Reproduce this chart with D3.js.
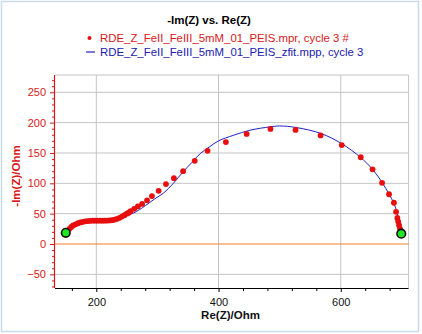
<!DOCTYPE html>
<html><head><meta charset="utf-8">
<script src="https://cdn.jsdelivr.net/npm/d3@7"></script>
<style>
html,body{margin:0;padding:0;background:#fff;}
svg{display:block;font-family:"Liberation Sans",Arial,sans-serif;}
</style></head>
<body>
<svg id="c" width="422" height="334"></svg>
<script>
// Measured data: Re(Z) / Ohm and -Im(Z) / Ohm
const reZ = [150,153,156,159,162,166,170,174,178,182,186,190,194,198,202,206,210,214,218,222,226,230,234,238,242,246,250,253,256,262,268,275,283,291,302,314,327,342,361,382,412,446,485,526,567,601.6,632.7,652,667.6,679,687,690.5,692.6,694,695.4,697,699];
const negImZ = [18.5,22,25,28,30.5,32.5,34.2,35.6,36.6,37.3,37.8,38.2,38.4,38.5,38.5,38.5,38.5,38.5,38.6,38.8,39.3,40.2,41.5,43.2,45.2,47.5,50,51.5,54,58,62,66,72,79,87.6,98.7,108.5,120,137,153.5,168,181.4,189.6,188,179,163,143,123,100.8,82,68,53,43,37,31,25,17];
// Fit curve
const fitRe = [150,165,180,200,220,235,248,261,280,295,310,326,342,356,370,385,400,424,451.5,484,500,527,568,602,632,652,668,679,687,692,695,697.5,699];
const fitIm = [18.5,31,36.5,38.5,39,41,47,51,63,74,84,100,119,134,149,160,170,179,187.5,193,194.5,192,182,165,143,123,101,82,67,52,40,28,17];
const xTicks = [200,400,600];
const yTicks = [-50,0,50,100,150,200,250];
const xMinor = [160,240,280,320,360,440,480,520,560,640,680];
const yMinor = d3.range(-70,280,10).filter(v => v % 50 !== 0);

const svg = d3.select("#c");
const L = 55, R = 408.6, T = 75, B = 288;
const x = d3.scaleLinear().domain([132.4, 711]).range([L, R]);
const y = d3.scaleLinear().domain([-72.5, 278.5]).range([B, T]);

// outer frame
svg.append("rect").attr("x",1.5).attr("y",1.5).attr("width",417).attr("height",330)
  .attr("fill","#fff").attr("stroke","#c9dcee").attr("stroke-width",1.5);

// grid
const grid = svg.append("g");
grid.selectAll("line.vx").data(xTicks).join("line")
  .attr("x1",d=>x(d)).attr("x2",d=>x(d)).attr("y1",T).attr("y2",B)
  .attr("stroke","#c4c4c4").attr("stroke-width",1);
grid.selectAll("line.hy").data(yTicks.filter(d=>d!==0)).join("line")
  .attr("y1",d=>y(d)).attr("y2",d=>y(d)).attr("x1",L).attr("x2",R)
  .attr("stroke","#c4c4c4").attr("stroke-width",1);
// plot border top & right
svg.append("line").attr("x1",L).attr("x2",R).attr("y1",T).attr("y2",T).attr("stroke","#c4c4c4");
svg.append("line").attr("x1",R).attr("x2",R).attr("y1",T).attr("y2",B).attr("stroke","#c4c4c4");
// zero line
svg.append("line").attr("x1",L).attr("x2",R).attr("y1",y(0)).attr("y2",y(0))
  .attr("stroke","#e8842a").attr("stroke-width",1.2);

// axes
const xAxis = svg.append("g").attr("transform",`translate(0,${B})`)
  .call(d3.axisBottom(x).tickValues(xTicks).tickSize(4).tickPadding(6));
svg.append("g").attr("transform",`translate(0,${B})`)
  .call(d3.axisBottom(x).tickValues(xMinor).tickSize(3).tickFormat(""))
  .call(g=>g.select(".domain").remove());
xAxis.select(".domain").attr("d",`M${L},0.5H${R}`).attr("stroke","#000").attr("stroke-width",1.2);
xAxis.selectAll("text").attr("font-size",11).attr("fill","#111").attr("font-family","Liberation Sans, Arial, sans-serif");

const yAxis = svg.append("g").attr("transform",`translate(${L},0)`)
  .call(d3.axisLeft(y).tickValues(yTicks).tickSize(5).tickPadding(4));
svg.append("g").attr("transform",`translate(${L},0)`)
  .call(d3.axisLeft(y).tickValues(yMinor).tickSize(3).tickFormat(""))
  .call(g=>g.select(".domain").remove())
  .selectAll("line").attr("stroke","#d81818");
yAxis.select(".domain").attr("d",`M-0.5,${T}V${B}`).attr("stroke","#d81818").attr("stroke-width",1.2);
yAxis.selectAll(".tick line").attr("stroke","#d81818");
yAxis.selectAll("text").attr("font-size",11).attr("fill","#d81818").attr("font-family","Liberation Sans, Arial, sans-serif");

// fit line
const line = d3.line().x((d,i)=>x(fitRe[i])).y((d,i)=>y(fitIm[i])).curve(d3.curveCatmullRom);
svg.append("path").attr("d",line(fitRe)).attr("fill","none").attr("stroke","#2020c8").attr("stroke-width",1);

// data points
svg.append("g").selectAll("circle").data(reZ).join("circle")
  .attr("cx",d=>x(d)).attr("cy",(d,i)=>y(negImZ[i])).attr("r",2.9).attr("fill","#e80e0e");

// first/last markers
const ends = [0, reZ.length-1];
svg.append("g").selectAll("circle").data(ends).join("circle")
  .attr("cx",i=>x(reZ[i])).attr("cy",i=>y(negImZ[i])).attr("r",4.3)
  .attr("fill","#22e622").attr("stroke","#111").attr("stroke-width",1.6);

// titles
svg.append("text").attr("x",209).attr("y",24).attr("text-anchor","middle")
  .attr("font-size",11.5).attr("font-weight","bold").attr("fill","#000").text("-Im(Z) vs. Re(Z)");
svg.append("circle").attr("cx",89.5).attr("cy",38).attr("r",2).attr("fill","#e80e0e");
svg.append("text").attr("x",100).attr("y",42).attr("font-size",11.4).attr("fill","#d81818")
  .text("RDE_Z_FeII_FeIII_5mM_01_PEIS.mpr, cycle 3 #");
svg.append("line").attr("x1",86).attr("x2",95).attr("y1",52).attr("y2",52).attr("stroke","#2020c8").attr("stroke-width",1.2);
svg.append("text").attr("x",100).attr("y",56).attr("font-size",11.4).attr("fill","#2020b0")
  .text("RDE_Z_FeII_FeIII_5mM_01_PEIS_zfit.mpp, cycle 3");

svg.append("text").attr("x",230.5).attr("y",319).attr("text-anchor","middle")
  .attr("font-size",11.5).attr("font-weight","bold").attr("fill","#111").text("Re(Z)/Ohm");
svg.append("text").attr("transform","translate(20,176) rotate(-90)").attr("text-anchor","middle")
  .attr("font-size",11.5).attr("font-weight","bold").attr("fill","#d81818").text("-Im(Z)/Ohm");
</script>
</body></html>
